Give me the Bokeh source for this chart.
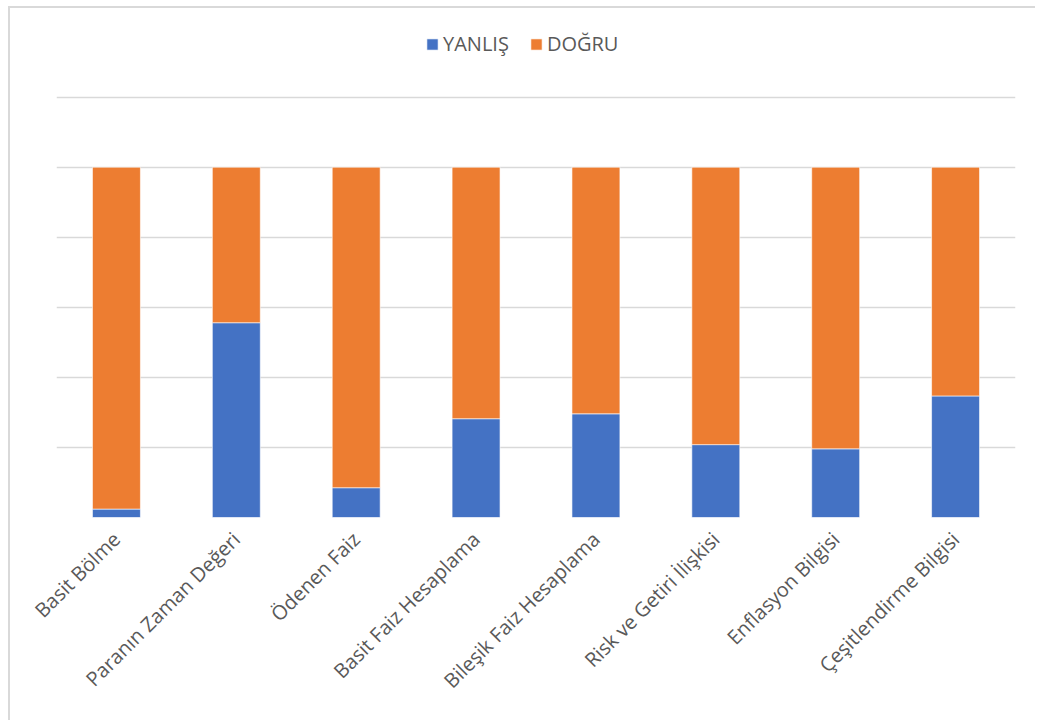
import math
from bokeh.plotting import figure
from bokeh.models import FactorRange, Range1d, FixedTicker
from bokeh.embed import file_html
from bokeh.resources import INLINE

categories = ["Basit Bölme", "Paranın Zaman Değeri", "Ödenen Faiz", "Basit Faiz Hesaplama",
              "Bileşik Faiz Hesaplama", "Risk ve Getiri İlişkisi", "Enflasyon Bilgisi",
              "Çeşitlendirme Bilgisi"]
yanlis = [2.4, 55.6, 8.5, 28.2, 29.6, 20.8, 19.6, 34.7]
dogru = [97.6, 44.4, 91.5, 71.8, 70.4, 79.2, 80.4, 65.3]
series = ["YANLIŞ", "DOĞRU"]
grid_ticks = [0, 20, 40, 60, 80, 100, 120]

FONT = "Open Sans"
TXT = "#595959"

p = figure(x_range=FactorRange(*categories), y_range=Range1d(0, 145.3),
           width=1027, height=714, output_backend="svg", toolbar_location=None,
           min_border_left=46, min_border_right=22, min_border_top=0, min_border_bottom=205)
p.styles = {"margin-left": "8px", "margin-top": "6px",
            "border-top": "2px solid #d9d9d9", "border-left": "2px solid #d9d9d9"}
p.outline_line_color = None
p.background_fill_color = "white"
p.border_fill_color = "white"

data = {"cat": categories, "YANLIŞ": yanlis, "DOĞRU": dogru}
p.vbar_stack(series, x="cat", width=0.4, source=data,
             color=["#4472C4", "#ED7D31"], line_color="white", line_width=0.6,
             legend_label=series)

p.yaxis.visible = False
p.xgrid.grid_line_color = None
p.ygrid.ticker = FixedTicker(ticks=grid_ticks)
p.ygrid.grid_line_color = "#d9d9d9"
p.ygrid.grid_line_width = 1.5

ax = p.xaxis[0]
ax.axis_line_color = None
ax.major_tick_line_color = None
ax.minor_tick_line_color = None
ax.major_label_orientation = math.pi / 4
ax.major_label_standoff = 12
ax.major_label_text_font = FONT
ax.major_label_text_font_size = "20px"
ax.major_label_text_color = TXT

lg = p.legend[0]
lg.location = (369, 460)
lg.orientation = "horizontal"
lg.border_line_color = None
lg.background_fill_alpha = 0
lg.label_text_font = FONT
lg.label_text_font_size = "20px"
lg.label_text_color = TXT
lg.glyph_width = 14
lg.glyph_height = 14
lg.label_standoff = 4
lg.spacing = 20
lg.padding = 5
lg.margin = 0

open("out.html", "w").write(file_html(p, INLINE))
